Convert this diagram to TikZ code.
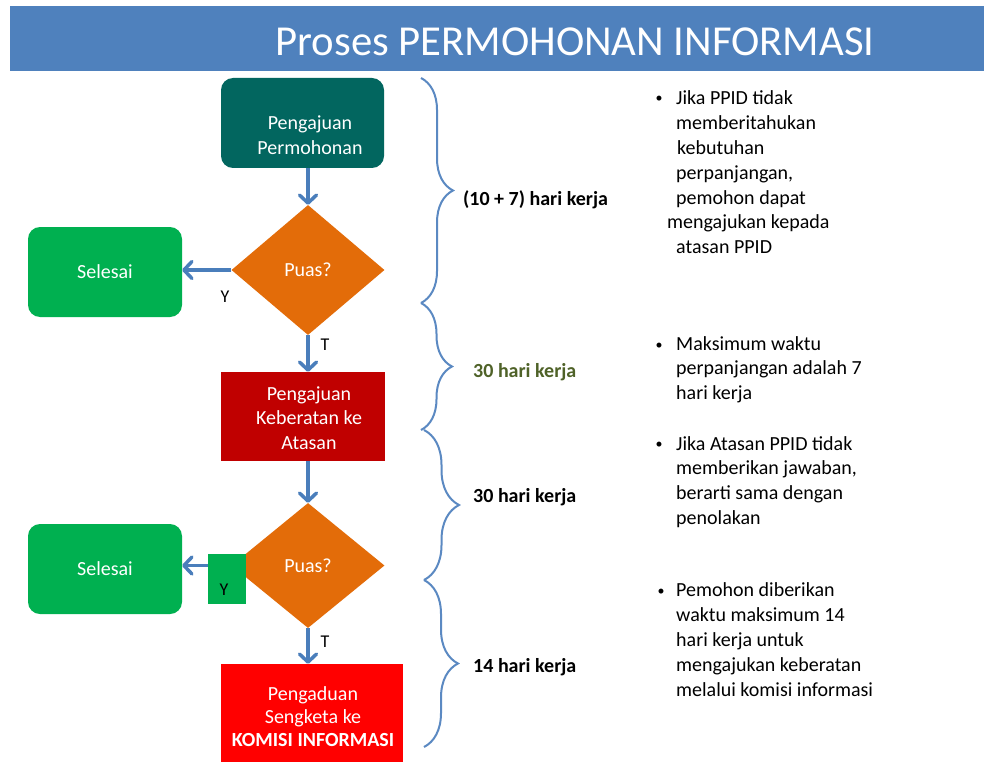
\documentclass[tikz,border=0pt]{standalone}
\usepackage{fontspec}
\setmainfont{Carlito}
\usetikzlibrary{shapes.geometric,arrows.meta,decorations.pathreplacing}
\definecolor{cBand}{HTML}{4F81BD}
\definecolor{cTeal}{HTML}{02665F}
\definecolor{cGreen}{HTML}{00B050}
\definecolor{cOrange}{HTML}{E36C09}
\definecolor{cDarkRed}{HTML}{C00000}
\definecolor{cRed}{HTML}{FF0000}
\definecolor{cArrow}{HTML}{4A7EBB}
\definecolor{cBrace}{HTML}{5B89C2}
\definecolor{cOlive}{HTML}{4F6228}
\newcommand\bxf{\fontsize{20}{25}\selectfont}
\newcommand\btf{\fontsize{20}{24.8}\selectfont}
\begin{document}
\begin{tikzpicture}[x=1pt,y=-1pt,
  boxshape/.style={inner sep=0pt, draw=none},
  rbox/.style={boxshape, rounded corners=12pt},
  dia/.style={diamond, fill=cOrange, inner sep=0pt, minimum width=153pt, text=white, font=\bxf},
  wtxt/.style={text=white, font=\bxf, inner sep=0pt, anchor=base},
  btxt/.style={font=\btf, inner sep=0pt, anchor=base west},
  dot/.style={font=\fontsize{14}{14}\selectfont, inner sep=0pt, anchor=base},
  lbl/.style={font=\btf\bfseries, inner sep=0pt, anchor=base west},
  yt/.style={font=\fontsize{18}{20}\selectfont, inner sep=0pt, anchor=base},
  arr/.style={draw=cArrow, line width=3.5pt, -{Straight Barb[length=8pt,width=17pt,round]}},
  brc/.style={draw=cBrace, line width=2pt, decorate, decoration={brace, amplitude=#1, aspect=0.5}}
]
\useasboundingbox (0,0) rectangle (984,762);
\fill[white] (0,0) rectangle (984,762);

% title band
\node[boxshape, fill=cBand, minimum width=974pt, minimum height=65pt, anchor=north west] (band) at (10,6) {};
\node[text=white, font=\fontsize{42.7}{50}\selectfont, inner sep=0pt, anchor=base] (title) at (575,56) {Proses PERMOHONAN INFORMASI};

% flow shapes
\node[rbox, fill=cTeal, minimum width=163pt, minimum height=90pt] (b1) at (302.5,123) {};
\node[wtxt] (b1t) at (310,130) {\begin{tabular}[t]{@{}c@{}}Pengajuan\\Permohonan\end{tabular}};

\node[dia, minimum height=130pt] (d1) at (308,270) {Puas?};
\node[rbox, fill=cGreen, minimum width=154pt, minimum height=90pt, text=white, font=\bxf] (s1) at (105,272) {Selesai};

\node[boxshape, fill=cDarkRed, minimum width=164pt, minimum height=89pt] (b2) at (303,416.5) {};
\node[wtxt, font=\fontsize{20}{24.5}\selectfont] (b2t) at (309,400) {\begin{tabular}[t]{@{}c@{}}Pengajuan\\Keberatan ke\\Atasan\end{tabular}};

\node[dia, minimum height=125pt] (d2) at (308,565.5) {Puas?};
\node[rbox, fill=cGreen, minimum width=154pt, minimum height=90pt, text=white, font=\bxf] (s2) at (105,569) {Selesai};

\node[boxshape, fill=cRed, minimum width=182pt, minimum height=98pt] (b3) at (312,713) {};
\node[wtxt, font=\fontsize{20}{23.2}\selectfont] (b3t) at (313,700) {\begin{tabular}[t]{@{}c@{}}Pengaduan\\Sengketa ke\\\textbf{KOMISI INFORMASI}\end{tabular}};

% connectors
\draw[arr] (b1.south -| d1.north) -- (d1.north);
\draw[arr] (d1.west) -- (d1.west -| s1.east);
\draw[arr] (d1.south) -- (b2.north -| d1.south);
\draw[arr] (b2.south -| d2.north) -- (d2.north);
\draw[arr] (d2.west) -- (d2.west -| s2.east);
\draw[arr] (d2.south) -- (b3.north -| d2.south);

% Y / T labels
\node[boxshape, fill=cGreen, minimum width=38pt, minimum height=50pt] (ybox) at (227,579) {};
\node[yt] (y1) at (225,302) {Y};
\node[yt] (y2) at (224,595) {Y};
\node[yt] (t1) at (325,350) {T};
\node[yt] (t2) at (325,647) {T};

% braces
\coordinate (k0) at (421,78);
\coordinate (k1) at (421,303);
\coordinate (k2a) at (421,430);
\coordinate (k2b) at (424,430);
\coordinate (k3) at (424,580);
\coordinate (k4) at (424,747);
\draw[brc=32pt] (k0) -- (k1);
\draw[brc=31pt] (k1) -- (k2a);
\draw[brc=35pt] (k2b) -- (k3);
\draw[brc=34pt] (k3) -- (k4);

% durations
\node[lbl] (l1) at (463,205) {(10 + 7) hari kerja};
\node[lbl, text=cOlive] (l2) at (473,377) {30 hari kerja};
\node[lbl] (l3) at (473,502) {30 hari kerja};
\node[lbl] (l4) at (473,672) {14 hari kerja};

% bullet notes
\node[dot] (p1) at (659,103) {•};
\node[btxt] (n1) at (676,105) {\begin{tabular}[t]{@{}l@{}}Jika PPID tidak\\memberitahukan\\\hspace*{1pt}kebutuhan\\perpanjangan,\\pemohon dapat\\\hspace*{-9pt}mengajukan kepada\\atasan PPID\end{tabular}};
\node[dot] (p2) at (659,349) {•};
\node[btxt] (n2) at (676,350) {\begin{tabular}[t]{@{}l@{}}Maksimum waktu\\perpanjangan adalah 7\\hari kerja\end{tabular}};
\node[dot] (p3) at (659,448) {•};
\node[btxt] (n3) at (676,450) {\begin{tabular}[t]{@{}l@{}}Jika Atasan PPID tidak\\memberikan jawaban,\\berarti sama dengan\\penolakan\end{tabular}};
\node[dot] (p4) at (661,595) {•};
\node[btxt, font=\fontsize{20}{25.2}\selectfont] (n4) at (676,596) {\begin{tabular}[t]{@{}l@{}}Pemohon diberikan\\waktu maksimum 14\\hari kerja untuk\\mengajukan keberatan\\melalui komisi informasi\end{tabular}};
\end{tikzpicture}
\end{document}
